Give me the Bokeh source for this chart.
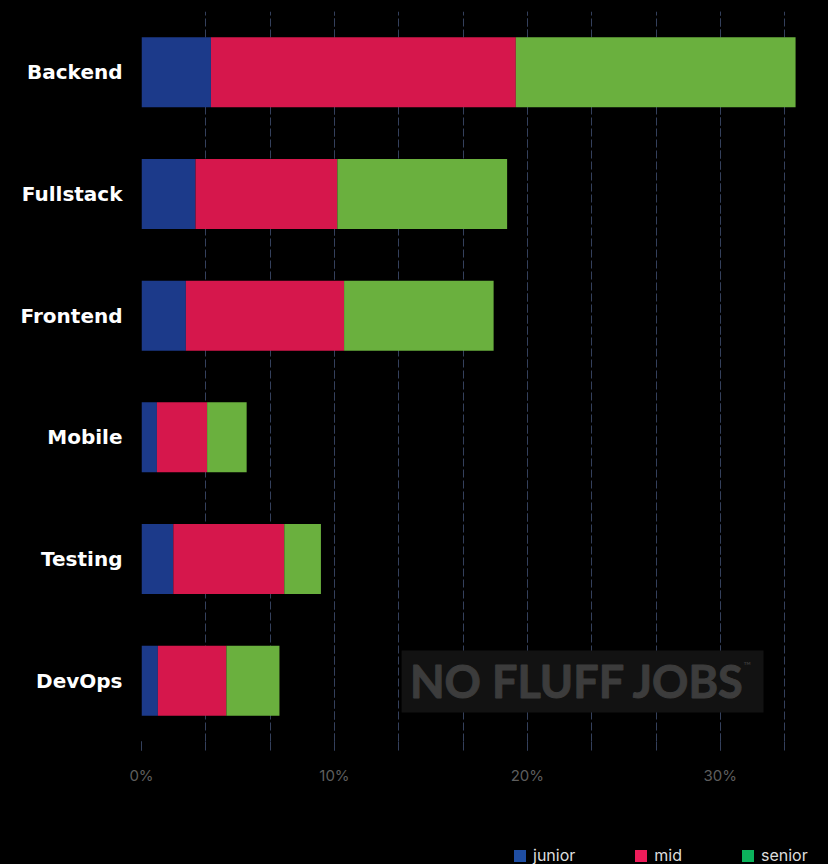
from bokeh.plotting import figure
from bokeh.layouts import column
from bokeh.models import (FixedTicker, Legend, LegendItem, BoxAnnotation, Label,
                          ColumnDataSource, CustomJSTickFormatter)
from bokeh.embed import file_html
from bokeh.resources import INLINE

categories = ["Backend", "Fullstack", "Frontend", "Mobile", "Testing", "DevOps"]
junior = [3.6, 2.8, 2.3, 0.8, 1.65, 0.85]
mid = [15.8, 7.35, 8.2, 2.6, 5.75, 3.55]
senior = [14.5, 8.8, 7.75, 2.05, 1.9, 2.75]
series = ["junior", "mid", "senior"]
bar_colors = ["#1c3a8a", "#d6174c", "#6ab03e"]
legend_colors = ["#1f4ea3", "#ee1c5a", "#0cb35c"]
major_ticks = [0, 10, 20, 30]
minor_ticks = [k * 10 / 3 for k in range(11)]

n = len(categories)
ypos = [n - i - 0.5 for i in range(n)]
src = ColumnDataSource(dict(y=ypos, junior=junior, mid=mid, senior=senior))

p = figure(output_backend="svg", toolbar_location=None,
           frame_width=656, frame_height=730,
           x_range=(0, 34), y_range=(0, n),
           background_fill_color="black", border_fill_color="black",
           min_border_left=141, min_border_top=11, min_border_right=31,
           min_border_bottom=59)
p.outline_line_color = "black"

p.hbar_stack(series, y="y", height=0.575, color=bar_colors, source=src,
             line_color=None)

# grid
xt = FixedTicker(ticks=major_ticks, minor_ticks=minor_ticks)
p.xaxis.ticker = xt
p.xgrid.ticker = xt
p.xgrid.grid_line_color = "#34405c"
p.xgrid.grid_line_dash = "8 3"
p.xgrid.minor_grid_line_color = "#34405c"
p.xgrid.minor_grid_line_dash = "8 3"
p.ygrid.grid_line_color = None

p.xaxis.axis_line_color = None
p.xaxis.major_tick_line_color = "#34405c"
p.xaxis.minor_tick_line_color = "#34405c"
p.xaxis.major_tick_out = 9
p.xaxis.major_tick_in = 0
p.xaxis.minor_tick_out = 9
p.xaxis.minor_tick_in = 0
p.xaxis.formatter = CustomJSTickFormatter(code="return tick.toFixed(0) + '%';")
p.xaxis.major_label_text_color = "#5e5e5e"
p.xaxis.major_label_text_font = "Inter"
p.xaxis.major_label_text_font_size = "15px"
p.xaxis.major_label_standoff = 15

p.yaxis.ticker = FixedTicker(ticks=ypos)
p.yaxis.major_label_overrides = {y: c for y, c in zip(ypos, categories)}
p.yaxis.axis_line_color = None
p.yaxis.major_tick_line_color = None
p.yaxis.minor_tick_line_color = None
p.yaxis.major_tick_out = 0
p.yaxis.major_tick_in = 0
p.yaxis.major_label_standoff = 19
p.yaxis.major_label_text_color = "white"
p.yaxis.major_label_text_font = "DejaVu Sans"
p.yaxis.major_label_text_font_style = "bold"
p.yaxis.major_label_text_font_size = "20px"

# watermark
p.add_layout(BoxAnnotation(left=13.48, right=32.24, bottom=0.239, top=0.748,
                           fill_color="#121212", fill_alpha=1, line_color=None))
p.add_layout(Label(x=22.6, y=0.5, text="NO FLUFF JOBS", text_align="center",
                   text_baseline="middle", text_color="#3c3c3c",
                   text_outline_color="#3c3c3c",
                   text_font="Lato", text_font_style="bold",
                   text_font_size="45px"))
p.add_layout(Label(x=31.4, y=0.63, text="™", text_align="center",
                   text_baseline="middle", text_color="#3c3c3c",
                   text_font="Lato", text_font_size="10px"))

# legend strip below the chart (swatch renderers sit outside its view)
lg = figure(output_backend="svg", toolbar_location=None,
            frame_width=828, frame_height=64,
            x_range=(0, 1), y_range=(0, 1),
            x_axis_type=None, y_axis_type=None,
            background_fill_color="black", border_fill_color="black",
            min_border=0)
lg.outline_line_color = None
lg.grid.grid_line_color = None
items = []
for name, col in zip(series, legend_colors):
    r = lg.quad(left=[-10], right=[-9], top=[-9], bottom=[-10], fill_color=col,
                line_color=None)
    items.append(LegendItem(label=name, renderers=[r]))
leg = Legend(items=items, orientation="horizontal", location=(512, -1),
             background_fill_color="black", background_fill_alpha=1,
             border_line_color=None, label_text_color="#dddddd",
             label_text_font="Inter", label_text_font_size="16px",
             glyph_width=15, glyph_height=15, label_standoff=6, spacing=58,
             label_height=15, padding=0, margin=0)
lg.add_layout(leg, "center")

layout = column(p, lg, spacing=0, styles={"background-color": "black"})
open("out.html", "w").write(file_html(layout, INLINE))
